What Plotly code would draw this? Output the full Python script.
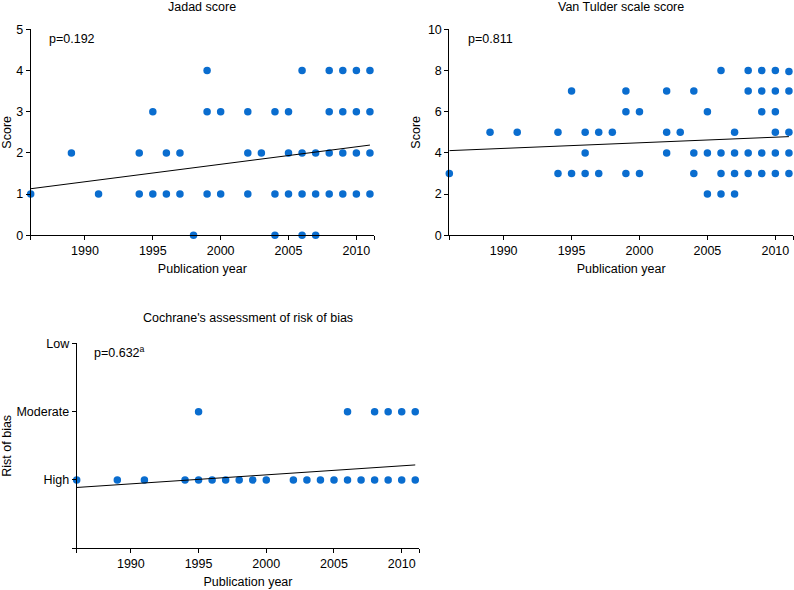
import plotly.graph_objects as go

# ---------------- data ----------------
jadad_years = [1986, 1989, 1991, 1994, 1994, 1995, 1995, 1996, 1996, 1997, 1997, 1998,
               1999, 1999, 1999, 2000, 2000, 2002, 2002, 2002, 2003,
               2004, 2004, 2004, 2005, 2005, 2005, 2006, 2006, 2006, 2006,
               2007, 2007, 2007, 2008, 2008, 2008, 2008, 2009, 2009, 2009, 2009,
               2010, 2010, 2010, 2010, 2011, 2011, 2011, 2011]
jadad_scores = [1, 2, 1, 2, 1, 3, 1, 2, 1, 2, 1, 0,
                4, 3, 1, 3, 1, 3, 2, 1, 2,
                3, 1, 0, 3, 2, 1, 4, 2, 1, 0,
                2, 1, 0, 4, 3, 2, 1, 4, 3, 2, 1,
                4, 3, 2, 1, 4, 3, 2, 1]

vt_years = [1986, 1989, 1991, 1994, 1994, 1995, 1995, 1996, 1996, 1996, 1997, 1997, 1998,
            1999, 1999, 1999, 2000, 2000, 2002, 2002, 2002, 2003,
            2004, 2004, 2004, 2005, 2005, 2005, 2006, 2006, 2006, 2006,
            2007, 2007, 2007, 2007, 2008, 2008, 2008, 2008,
            2009, 2009, 2009, 2009, 2009, 2010, 2010, 2010, 2010, 2010, 2010,
            2011, 2011, 2011, 2011, 2011]
vt_scores = [3, 5, 5, 5, 3, 7, 3, 5, 4, 3, 5, 3, 5,
             7, 6, 3, 6, 3, 7, 5, 4, 5,
             7, 4, 3, 6, 4, 2, 8, 4, 3, 2,
             5, 4, 3, 2, 8, 7, 4, 3,
             8, 7, 6, 4, 3, 8, 7, 6, 5, 4, 3,
             7.95, 7, 5, 4, 3]

# Cochrane risk of bias: 1 = High, 2 = Moderate, 3 = Low
rob_years = [1986, 1989, 1991, 1994, 1995, 1996, 1997, 1998, 1999, 2000,
             2002, 2003, 2004, 2005, 2006, 2007, 2008, 2009, 2010, 2011,
             1995, 2006, 2008, 2009, 2010, 2011]
rob_levels = [1, 1, 1, 1, 1, 1, 1, 1, 1, 1,
              1, 1, 1, 1, 1, 1, 1, 1, 1, 1,
              2, 2, 2, 2, 2, 2]

trend_years = [1986, 2011]
jadad_trend = [1.13, 2.19]
vt_trend = [4.11, 4.79]
rob_trend = [0.89, 1.22]

x_tickvals = [1990, 1995, 2000, 2005, 2010]
x_ticktext = ["1990", "1995", "2000", "2005", "2010"]
x_edge_ticks = [1986, 2011.3]
rob_tickvals = [1, 2, 3]
rob_ticktext = ["High", "Moderate", "Low"]

# ---------------- style ----------------
FONT = "Liberation Sans, Arial, sans-serif"
DOT = "#0a6dcf"
W, H = 794, 590

def px_x(p):
    return p / W

def px_y(p):
    return 1 - p / H

fig = go.Figure()

def add_panel(xs, ys, trend, xa, ya):
    fig.add_trace(go.Scatter(x=xs, y=ys, mode="markers",
                             marker=dict(color=DOT, size=7.5, line=dict(width=0)),
                             cliponaxis=False, xaxis=xa, yaxis=ya, showlegend=False,
                             hoverinfo="x+y"))
    fig.add_trace(go.Scatter(x=trend_years, y=trend, mode="lines",
                             line=dict(color="black", width=1),
                             cliponaxis=False, xaxis=xa, yaxis=ya, showlegend=False))

add_panel(jadad_years, jadad_scores, jadad_trend, "x", "y")
add_panel(vt_years, vt_scores, vt_trend, "x2", "y2")
add_panel(rob_years, rob_levels, rob_trend, "x3", "y3")

TITLE_FONT = dict(size=12.5, color="black", family=FONT)
common_x = dict(range=[1986, 2011.3], tickmode="array", tickvals=x_tickvals, ticktext=x_ticktext,
                showline=True, linecolor="black", linewidth=1, ticks="outside", ticklen=4,
                tickcolor="black", tickwidth=1, showgrid=False, zeroline=False, automargin=False,
                minor=dict(tickmode="array", tickvals=x_edge_ticks, ticks="outside", ticklen=4,
                           tickcolor="black", tickwidth=1, showgrid=False),
                tickfont=dict(size=12.5, color="black", family=FONT),
                title=dict(text="Publication year", font=TITLE_FONT, standoff=6))
common_y = dict(showline=True, linecolor="black", linewidth=1, ticks="outside", ticklen=4,
                tickcolor="black", tickwidth=1, showgrid=False, zeroline=False, automargin=False,
                tickfont=dict(size=12.5, color="black", family=FONT))

d1 = [px_x(30.7), px_x(374)]
d2 = [px_x(449.3), px_x(793)]
d3 = [px_x(76.7), px_x(419.3)]
ytop = [px_y(235.3), px_y(29.3)]
ybot = [px_y(548.3), px_y(343.3)]

fig.update_layout(
    width=W, height=H,
    margin=dict(l=0, r=0, t=0, b=0),
    paper_bgcolor="white", plot_bgcolor="white",
    font=dict(family=FONT, size=12, color="black"),
    xaxis=dict(common_x, domain=d1, anchor="y"),
    yaxis=dict(common_y, domain=ytop, anchor="x", range=[0, 5], dtick=1,
               title=dict(text="Score", font=TITLE_FONT, standoff=4)),
    xaxis2=dict(common_x, domain=d2, anchor="y2"),
    yaxis2=dict(common_y, domain=ytop, anchor="x2", range=[0, 10], dtick=2,
                title=dict(text="Score", font=TITLE_FONT, standoff=4)),
    xaxis3=dict(common_x, domain=d3, anchor="y3"),
    yaxis3=dict(common_y, domain=ybot, anchor="x3", range=[0, 3], tickmode="array",
                tickvals=rob_tickvals, ticktext=rob_ticktext,
                minor=dict(tickmode="array", tickvals=[0], ticks="outside", ticklen=4,
                           tickcolor="black", tickwidth=1, showgrid=False),
                title=dict(text="Rist of bias", font=TITLE_FONT, standoff=4)),
)

def ann(text, x, y, xanchor="center", size=12.5):
    fig.add_annotation(text=text, x=x, y=y, xref="paper", yref="paper", xanchor=xanchor,
                       yanchor="middle", showarrow=False,
                       font=dict(size=size, color="black", family=FONT))

ann("Jadad score", px_x(202), px_y(7))
ann("Van Tulder scale score", px_x(621), px_y(7))
ann("Cochrane's assessment of risk of bias", px_x(248), px_y(318))
ann("p=0.192", px_x(47), px_y(39), xanchor="left")
ann("p=0.811", px_x(466), px_y(39), xanchor="left")
ann("p=0.632<sup>a</sup>", px_x(92), px_y(352), xanchor="left")

fig.write_html("out.html", config={"displayModeBar": False},
               post_script="document.body.style.margin='0';document.body.style.overflow='hidden';")
